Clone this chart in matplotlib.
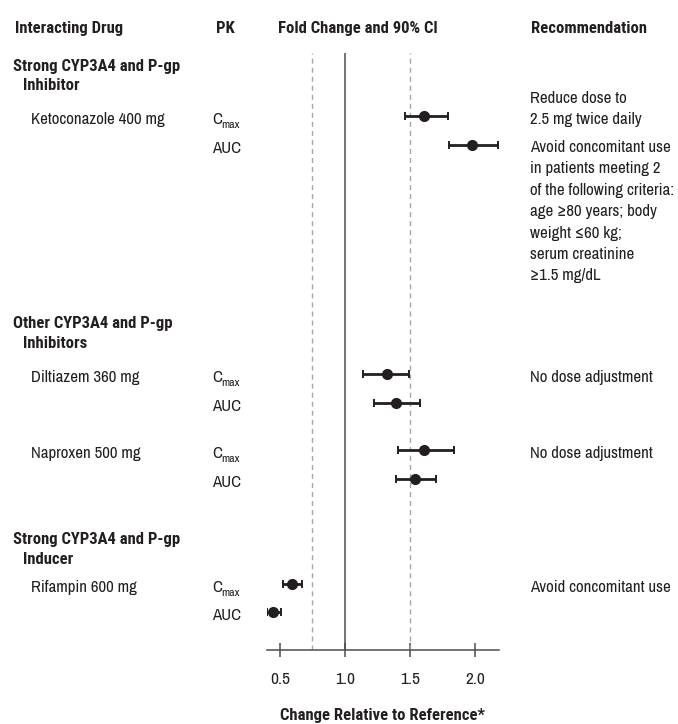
import matplotlib
matplotlib.use("Agg")
import matplotlib.pyplot as plt
import numpy as np

# ---- data ----
group_titles = [("Strong CYP3A4 and P-gp", "Inhibitor"),
                ("Other CYP3A4 and P-gp", "Inhibitors"),
                ("Strong CYP3A4 and P-gp", "Inducer")]
drugs = ["Ketoconazole 400 mg", "Diltiazem 360 mg", "Naproxen 500 mg", "Rifampin 600 mg"]

cmax_est = np.array([1.61, 1.32, 1.61, 0.59])
cmax_lo = np.array([1.46, 1.14, 1.41, 0.52])
cmax_hi = np.array([1.79, 1.49, 1.84, 0.67])
auc_est = np.array([1.98, 1.39, 1.54, 0.45])
auc_lo = np.array([1.80, 1.22, 1.39, 0.40])
auc_hi = np.array([2.18, 1.58, 1.70, 0.51])

rec_cmax = [["Reduce dose to", "2.5 mg twice daily"],
            ["No dose adjustment"],
            ["No dose adjustment"],
            ["Avoid concomitant use"]]
rec_auc = [["Avoid concomitant use", "in patients meeting 2",
            "of the following criteria:", "age \u226580 years; body",
            "weight \u226460 kg;", "serum creatinine", "\u22651.5 mg/dL"],
           [], [], []]

ticks = [0.5, 1.0, 1.5, 2.0]
tick_labels = ["0.5", "1.0", "1.5", "2.0"]
ref_lines = [0.75, 1.5]

# ---- layout (pixel rows of the 678x724 canvas) ----
W, H = 678, 724
group_y = [70.5, 328, 544]
cmax_y = [116, 374, 450, 584]
auc_y = [145, 403, 479, 612]
line_h = 21.4

TXT = "#231f20"
BOLD = dict(family=["Roboto Condensed", "DejaVu Sans"], fontweight="bold", fontsize=12)
plt.rcParams["font.family"] = ["Archivo Narrow", "DejaVu Sans"]
plt.rcParams["font.size"] = 12.1


def fx(x):
    return x / W


def fy(y):
    return 1 - y / H


fig = plt.figure(figsize=(W / 100, H / 100), dpi=100)
ax = fig.add_axes([fx(267), fy(650), (499 - 267) / W, (650 - 53) / H])
ax.set_xlim(0.4, 2.185)
ax.set_ylim(650, 53)
for s in ["top", "left", "right"]:
    ax.spines[s].set_visible(False)
ax.spines["bottom"].set_color("#4d4d4d")
ax.spines["bottom"].set_linewidth(1.1)
ax.set_yticks([])
ax.set_xticks(ticks)
ax.set_xticklabels(tick_labels)
ax.tick_params(axis="x", direction="inout", length=10, width=1.1,
               color="#4d4d4d", pad=11, labelsize=12.5, labelcolor=TXT)
ax.set_xlabel("Change Relative to Reference*", color=TXT, labelpad=15, **BOLD)

ax.axvline(1.0, color="#4d4d4d", lw=1.1)
for v in ref_lines:
    ax.axvline(v, color="#a6a6a6", lw=1.0, ls=(0, (3.6, 2.9)))

for est, lo, hi, yy in [(cmax_est, cmax_lo, cmax_hi, cmax_y),
                        (auc_est, auc_lo, auc_hi, auc_y)]:
    ax.errorbar(est, yy, xerr=[est - lo, hi - est], fmt="o", color=TXT,
                ms=7, elinewidth=2, capsize=2.8, capthick=1.4)

# header row
for x, s in [(15, "Interacting Drug"), (216, "PK"),
             (278, "Fold Change and 90% CI"), (531, "Recommendation")]:
    fig.text(fx(x), fy(33), s, color=TXT, va="baseline", **BOLD)

# group headings
for (l1, l2), gy in zip(group_titles, group_y):
    fig.text(fx(13), fy(gy), l1, color=TXT, va="baseline", **BOLD)
    fig.text(fx(22.5), fy(gy + 19.5), l2, color=TXT, va="baseline", **BOLD)

# drug rows
for i, d in enumerate(drugs):
    b1 = cmax_y[i] + 8
    b2 = auc_y[i] + 8
    fig.text(fx(30.5), fy(b1), d, color=TXT, va="baseline")
    fig.text(fx(212), fy(b1), "C", color=TXT, va="baseline")
    fig.text(fx(221), fy(b1 + 4), "max", color=TXT, va="baseline", fontsize=8.5)
    fig.text(fx(212), fy(b2), "AUC", color=TXT, va="baseline")
    n = len(rec_cmax[i])
    for j, s in enumerate(rec_cmax[i]):
        fig.text(fx(530), fy(b1 - (n - 1 - j) * line_h), s, color=TXT, va="baseline")
    for j, s in enumerate(rec_auc[i]):
        fig.text(fx(530), fy(b2 - 1 + j * line_h), s, color=TXT, va="baseline")

fig.savefig("out.png", dpi=100)
